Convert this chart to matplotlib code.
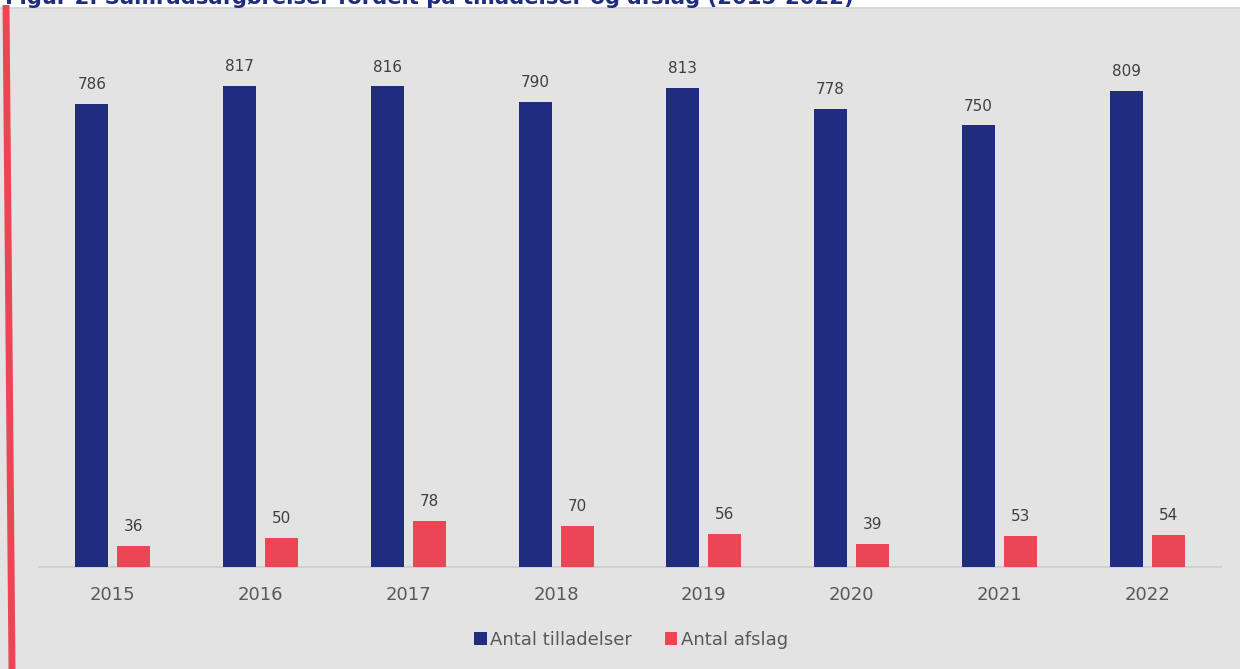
import matplotlib
matplotlib.use("Agg")
import matplotlib.pyplot as plt
import numpy as np
from matplotlib.patches import Rectangle
from matplotlib.lines import Line2D

years = ["2015", "2016", "2017", "2018", "2019", "2020", "2021", "2022"]
tilladelser = [786, 817, 816, 790, 813, 778, 750, 809]
afslag = [36, 50, 78, 70, 56, 39, 53, 54]

BLUE = "#1F2C80"
RED = "#EC4556"
BG = "#E3E3E3"

W, H = 1240, 669
fig = plt.figure(figsize=(W / 100, H / 100), dpi=100)
fig.patch.set_facecolor("white")

# gray panel
fig.add_artist(Rectangle((0, 0), 1, (H - 7) / H, transform=fig.transFigure,
                         facecolor=BG, edgecolor="none", zorder=0))
fig.add_artist(Line2D([0, 1], [(H - 7.5) / H] * 2, transform=fig.transFigure,
                      color="#D6D6D6", lw=1.2, zorder=1))
# red slanted line on the left
fig.add_artist(Line2D([6 / W, 12 / W], [(H - 5) / H, 0], transform=fig.transFigure,
                      color=RED, lw=5, zorder=2, solid_capstyle="butt"))

# title (cut off at the top edge, as in the reference)
fig.text(5 / W, (H - 4) / H, "Figur 2. Samrådsafgørelser fordelt på tilladelser og afslag (2015-2022)",
         fontsize=15.2, fontweight="bold", color=BLUE, ha="left", va="baseline", zorder=3)

left, right = 39 / W, 1221 / W
bottom = (H - 567) / H
top = (H - 37) / H
ax = fig.add_axes([left, bottom, right - left, top - bottom])
ax.set_facecolor("none")

x = np.arange(len(years))
bw = 0.223
off = 0.142
b1 = ax.bar(x - off, tilladelser, bw, color=BLUE, label="Antal tilladelser", zorder=3)
b2 = ax.bar(x + off, afslag, bw, color=RED, label="Antal afslag", zorder=3)

for bars, vals in ((b1, tilladelser), (b2, afslag)):
    for r, v in zip(bars, vals):
        ax.annotate(str(v), (r.get_x() + r.get_width() / 2, v), xytext=(0, 8.5),
                    textcoords="offset points", ha="center", va="bottom",
                    fontsize=11, color="#404040")

ax.set_xlim(-0.5, len(years) - 0.5)
ax.set_ylim(0, 900)
ax.set_xticks(x)
ax.set_xticklabels(years, fontsize=13, color="#595959")
ax.tick_params(axis="x", length=0, pad=13.5)
ax.set_yticks([])
for s in ("left", "right", "top"):
    ax.spines[s].set_visible(False)
ax.spines["bottom"].set_color("#D0D0D0")
ax.spines["bottom"].set_linewidth(1.5)

leg = fig.legend(handles=[b1, b2], loc="center", bbox_to_anchor=(631 / W, (H - 640) / H),
                 ncol=2, frameon=False, fontsize=13, handlelength=0.7, handleheight=0.7,
                 handletextpad=0.2, columnspacing=1.8, labelcolor="#595959")

fig.savefig("out.png", dpi=100, facecolor=fig.get_facecolor())
